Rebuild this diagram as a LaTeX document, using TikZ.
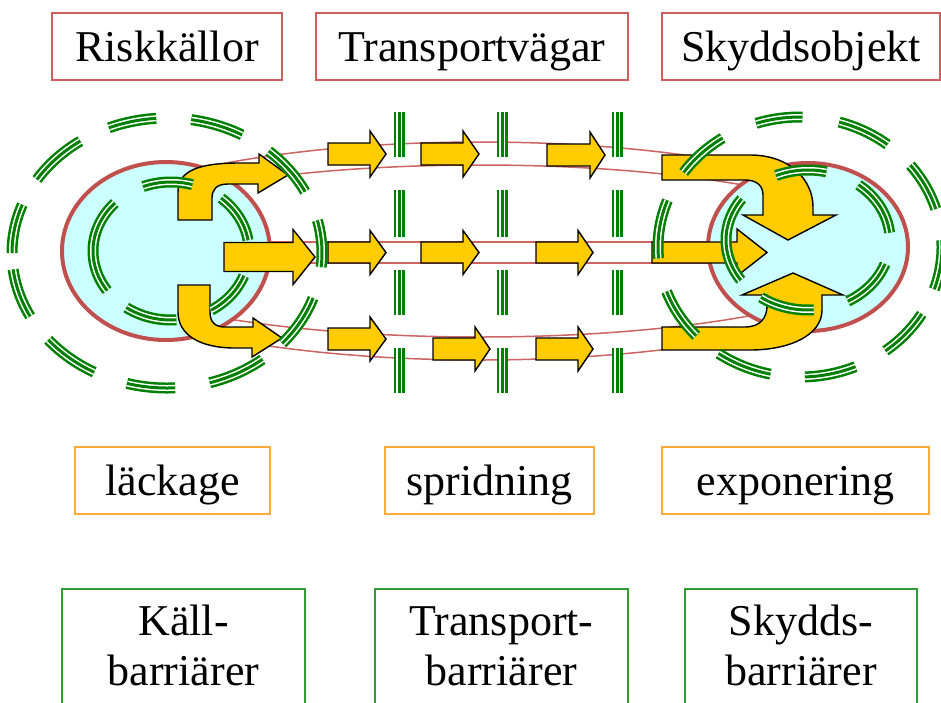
\documentclass[tikz,border=0pt]{standalone}
\usepackage{fontspec}
\setmainfont{Liberation Serif}
\definecolor{boxred}{RGB}{205,95,95}
\definecolor{pipered}{RGB}{205,100,100}
\definecolor{ringred}{RGB}{192,80,77}
\definecolor{srcfill}{RGB}{204,255,255}
\definecolor{arrowyellow}{RGB}{255,204,0}
\definecolor{bgreen}{RGB}{0,128,0}
\definecolor{boxgreen}{RGB}{50,155,50}
\definecolor{boxorange}{RGB}{255,170,60}
\newcommand\yblock[6]{\draw[yarrow] (#1,{#2-#5}) -- (#3,{#2-#5}) -- (#3,{#2-#6}) -- (#4,#2) -- (#3,{#2+#6}) -- (#3,{#2+#5}) -- (#1,{#2+#5}) -- cycle;}
\newcommand\gdash[6]{\draw[barrier] plot[domain=#5:#6, samples=25] ({#1+#3*cos(\x)},{#2+#4*sin(\x)});}
\tikzset{
  lbl/.style={font=\fontsize{44}{50}\selectfont, text height=33pt, text depth=4pt, inner sep=0pt},
  redbox/.style={lbl, draw=boxred, line width=2pt},
  orangebox/.style={lbl, draw=boxorange, line width=2pt},
  greenbox/.style={draw=boxgreen, line width=2pt},
  twoline/.style={font=\fontsize{44}{50}\selectfont, align=center, inner sep=0pt, anchor=base},
  yarrow/.style={fill=arrowyellow, draw=black, line width=1.4pt, line join=miter},
  pipe/.style={draw=pipered, line width=1.5pt},
  ring/.style={fill=srcfill, draw=ringred, line width=4pt},
  barrier/.style={draw=bgreen, line width=11pt, postaction={draw=white, line width=6pt}, postaction={draw=bgreen, line width=3pt}},
}
\begin{document}
\begin{tikzpicture}[x=1pt,y=-1pt]
\fill[white] (0,0) rectangle (941,702);
\useasboundingbox (0,0) rectangle (941,702);

% title boxes
\node[redbox, minimum width=230pt, minimum height=67pt] (risk) at (167,46.5) {Riskkällor\hspace{16pt}};
\node[redbox, minimum width=312pt, minimum height=67pt] (transp) at (472,46.5) {Transportvägar};
\node[redbox, minimum width=278pt, minimum height=67pt] (skydd) at (801,46.5) {Skyddsobjekt};

% process boxes
\node[orangebox, minimum width=195pt, minimum height=67pt] (lack) at (172.5,480.5) {läckage};
\node[orangebox, minimum width=209pt, minimum height=67pt] (sprid) at (489.5,480.5) {spridning};
\node[orangebox, minimum width=267pt, minimum height=67pt] (expo) at (795.5,480.5) {exponering};

% barrier boxes
\node[greenbox, minimum width=243pt, minimum height=140pt, anchor=north] (kallbox) at (183.5,588) {};
\node[greenbox, minimum width=253pt, minimum height=140pt, anchor=north] (transbox) at (501.5,588) {};
\node[greenbox, minimum width=232pt, minimum height=140pt, anchor=north] (skyddbox) at (801,588) {};
\node[twoline] (kall) at (183.5,685) {Käll-\\barriärer};
\node[twoline] (transb) at (501.5,685) {Transport-\\barriärer};
\node[twoline] (skyddb) at (801,685) {Skydds-\\barriärer};

% transport pipes
\begin{scope}
\clip (170,100) rectangle (800,400);
\draw[pipe] (480,251) ellipse [x radius=430pt, y radius=109pt];
\draw[pipe] (480,251) ellipse [x radius=410pt, y radius=86pt];
\end{scope}
\draw[pipe] (240,242) -- (740,242);
\draw[pipe] (240,263) -- (740,263);

% source and object
\draw[ring] (166,251) ellipse [x radius=104pt, y radius=89pt];
\draw[ring] (808,247) ellipse [x radius=100pt, y radius=84pt];

% arrows in pipes
\yblock{328}{154}{370}{386}{11}{23}
\yblock{421}{154}{463}{479}{11}{23}
\yblock{547}{155}{590}{605}{11}{23}
\yblock{328}{252.5}{370}{386}{10.5}{22}
\yblock{421}{252.5}{463}{479}{10.5}{22}
\yblock{536}{252.5}{578}{593}{10.5}{22}
\yblock{328}{339}{370}{386}{11}{22}
\yblock{433}{349}{475}{490}{11}{22}
\yblock{536}{349}{578}{593}{11}{22}
% source arrows
\yblock{224}{257}{293}{315}{14.5}{27.5}
\draw[yarrow] (178,220) -- (178,192) .. controls (178,170) and (200,163) .. (240,163) -- (259,163) -- (259,154) -- (288,175) -- (258,193) -- (258,184) -- (228,184) .. controls (216,184) and (212,190) .. (212,198) -- (212,220) -- cycle;
\draw[yarrow] (178,285) -- (210,285) -- (210,312) .. controls (210,322) and (215,327) .. (225,327) -- (253,327) -- (253,318) -- (282,338) -- (252,357) -- (252,348) -- (235,348) .. controls (200,348) and (178,335) .. (178,312) -- cycle;
% object arrows
\yblock{652}{252.5}{737}{767}{10.5}{23.5}
\draw[yarrow] (662,155) -- (750,155) .. controls (790,155) and (813,180) .. (813,207) -- (813,215) -- (836,215) -- (788,240) -- (743,215) -- (763,215) -- (763,195) .. controls (763,186) and (757,180) .. (745,180) -- (662,180) -- cycle;
\draw[yarrow] (662,327) -- (745,327) .. controls (760,327) and (767,318) .. (767,306) -- (767,295) -- (742,295) -- (793,273) -- (843,295) -- (822,295) -- (822,310) .. controls (822,335) and (790,350) .. (750,350) -- (662,350) -- cycle;

% barriers around source
\foreach \ta/\tb in {248/266,279/299,311/333,346/366,19.5/42,52/74,87/105,118/140,152/173,180/201,213/236}
  {\gdash{167}{253}{155}{135}{\ta}{\tb}}
\foreach \ta/\tb in {249/286,310/351,21/59,86/125,145/224}
  {\gdash{171}{251}{78}{69}{\ta}{\tb}}
% barriers around object
\foreach \ta/\tb in {252/271,286/308,321/343,357/379,31/53,67/88,102/125,137/160,175/201,215/237}
  {\gdash{800}{247}{142}{130}{\ta}{\tb}}
\foreach \ta/\tb in {247/283,308/354,20/61,86/125,145/216}
  {\gdash{808}{240}{82}{70}{\ta}{\tb}}
% transport barriers
\foreach \bx in {399,502,617}
  \foreach \ya/\yb in {112/157,190/237,270/315,348/393}
    {\draw[barrier] (\bx,\ya) -- (\bx,\yb);}
\end{tikzpicture}
\end{document}
